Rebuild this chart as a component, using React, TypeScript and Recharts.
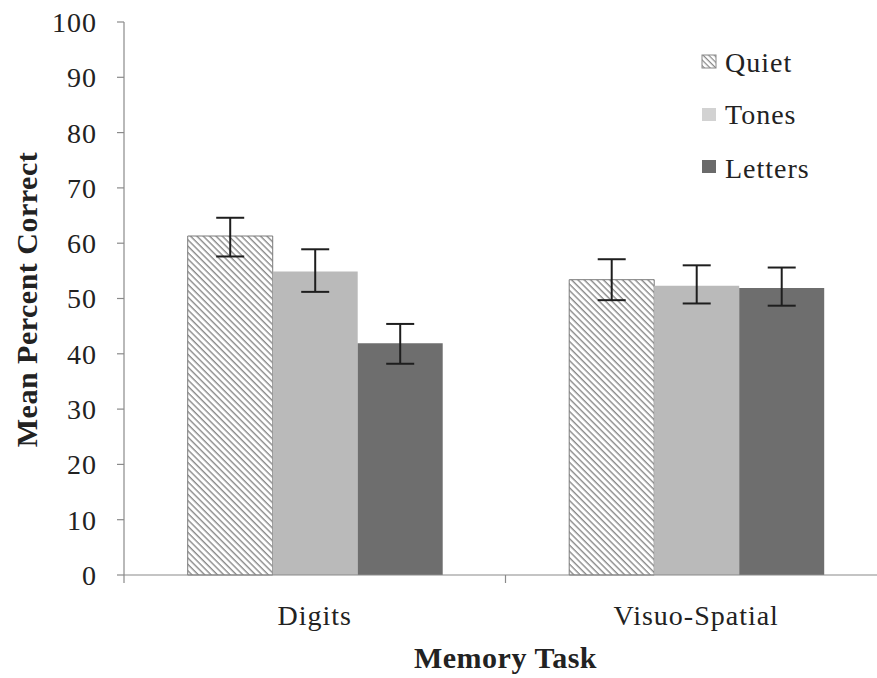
import React from 'react';
import { BarChart, Bar, XAxis, YAxis, ErrorBar, Legend } from 'recharts';

const categories = ['Digits', 'Visuo-Spatial'];
const quiet = [61.3, 53.4];
const tones = [54.9, 52.3];
const letters = [41.9, 51.9];
const quietLow = [57.6, 49.7];
const quietHigh = [64.6, 57.1];
const tonesLow = [51.2, 49.1];
const tonesHigh = [58.9, 56.0];
const lettersLow = [38.2, 48.7];
const lettersHigh = [45.4, 55.6];
const yTicks = [0, 10, 20, 30, 40, 50, 60, 70, 80, 90, 100];
const seriesNames = ['Quiet', 'Tones', 'Letters'];

const data = categories.map((c, i) => ({
  name: c,
  quiet: quiet[i],
  tones: tones[i],
  letters: letters[i],
  quietErr: [quiet[i] - quietLow[i], quietHigh[i] - quiet[i]],
  tonesErr: [tones[i] - tonesLow[i], tonesHigh[i] - tones[i]],
  lettersErr: [letters[i] - lettersLow[i], lettersHigh[i] - letters[i]],
}));

const FONT = '"Liberation Serif", "Times New Roman", serif';
const AXIS = '#8a8a8a';
const TEXT = '#222';

const XTick = (props: any) => {
  const { x, y, payload, index, visibleTicksCount, width } = props;
  const half = payload && typeof payload.offset === 'number' && payload.offset > 0
    ? payload.offset
    : (width || 763) / (visibleTicksCount || 2) / 2;
  return (
    <g>
      {index === 0 && <line x1={x - half} x2={x - half} y1={y} y2={y + 8} stroke={AXIS} strokeWidth={1.2} />}
      <line x1={x + half} x2={x + half} y1={y} y2={y + 8} stroke={AXIS} strokeWidth={1.2} />
      <text x={x} y={y + 50} textAnchor="middle" fontFamily={FONT} fontSize={28} letterSpacing={1} fill={TEXT}>
        {payload.value}
      </text>
    </g>
  );
};

const XTitle = (props: any) => {
  const vb = props.viewBox || {};
  return (
    <text x={vb.x + vb.width / 2} y={vb.y + 93} textAnchor="middle" fontFamily={FONT} fontSize={30} fontWeight="bold" letterSpacing={0.5} fill={TEXT}>
      Memory Task
    </text>
  );
};

const YTitle = (props: any) => {
  const vb = props.viewBox || {};
  const cx = vb.x + 26;
  const cy = vb.y + vb.height / 2 + 1;
  return (
    <text x={cx} y={cy} dy="0.35em" transform={`rotate(-90 ${cx} ${cy})`} textAnchor="middle" fontFamily={FONT} fontSize={30} fontWeight="bold" letterSpacing={0.5} fill={TEXT}>
      Mean Percent Correct
    </text>
  );
};

const renderLegend = () => {
  const fills = ['url(#hatchLegend)', '#d2d2d2', '#6a6a6a'];
  const swY = [15, 68, 120];
  const txY = [32, 84, 138];
  return (
    <svg width={170} height={160} style={{ display: 'block' }}>
      <defs>
        <pattern id="hatchLegend" patternUnits="userSpaceOnUse" width={4} height={4} patternTransform="rotate(45)">
          <rect width={4} height={4} fill="#ffffff" />
          <line x1={0} y1={0.6} x2={4} y2={0.6} stroke="#8a8a8a" strokeWidth={1.3} />
        </pattern>
      </defs>
      {seriesNames.map((n, i) => (
        <g key={n}>
          <rect x={2} y={swY[i]} width={14} height={13} fill={fills[i]} stroke={i === 0 ? '#888' : 'none'} strokeWidth={1} />
          <text x={25} y={txY[i]} fontFamily={FONT} fontSize={28} letterSpacing={1} fill={TEXT}>{n}</text>
        </g>
      ))}
    </svg>
  );
};

export default function App() {
  return (
    <div style={{ position: 'fixed', left: 0, top: 0, width: 877, height: 678, overflow: 'hidden', background: '#fff' }}>
      <BarChart
        width={895}
        height={678}
        data={data}
        margin={{ top: 22, right: 8, bottom: 0, left: 0 }}
        barCategoryGap="16.7%"
        barGap={0}
      >
        <defs>
          <pattern id="hatchBar" patternUnits="userSpaceOnUse" width={4.5} height={4.5} patternTransform="rotate(45)">
            <rect width={4.5} height={4.5} fill="#ffffff" />
            <line x1={0} y1={0.7} x2={4.5} y2={0.7} stroke="#8a8a8a" strokeWidth={1.4} />
          </pattern>
        </defs>
        <XAxis
          dataKey="name"
          height={103}
          axisLine={{ stroke: AXIS, strokeWidth: 1.2 }}
          tickLine={false}
          tickSize={0}
          tickMargin={0}
          tick={<XTick />}
          interval={0}
          label={<XTitle />}
        />
        <YAxis
          width={124}
          domain={[0, 100]}
          ticks={yTicks}
          interval={0}
          axisLine={{ stroke: AXIS, strokeWidth: 1.2 }}
          tickLine={{ stroke: AXIS, strokeWidth: 1.2 }}
          tickSize={7}
          tickMargin={20}
          tick={{ fontFamily: FONT, fontSize: 28, fill: TEXT, letterSpacing: 1 }}
          label={<YTitle />}
        />
        <Legend
          content={renderLegend}
          layout="horizontal"
          verticalAlign="middle"
          align="center"
          wrapperStyle={{ position: 'absolute', left: 700, top: 40, width: 170 }}
        />
        <Bar dataKey="quiet" name="Quiet" fill="url(#hatchBar)" stroke="#7a7a7a" strokeWidth={1} isAnimationActive={false}>
          <ErrorBar dataKey="quietErr" width={14} strokeWidth={2} stroke="#1e1e1e" direction="y" isAnimationActive={false} />
        </Bar>
        <Bar dataKey="tones" name="Tones" fill="#bababa" isAnimationActive={false}>
          <ErrorBar dataKey="tonesErr" width={14} strokeWidth={2} stroke="#1e1e1e" direction="y" isAnimationActive={false} />
        </Bar>
        <Bar dataKey="letters" name="Letters" fill="#6e6e6e" isAnimationActive={false}>
          <ErrorBar dataKey="lettersErr" width={14} strokeWidth={2} stroke="#1e1e1e" direction="y" isAnimationActive={false} />
        </Bar>
      </BarChart>
    </div>
  );
}
